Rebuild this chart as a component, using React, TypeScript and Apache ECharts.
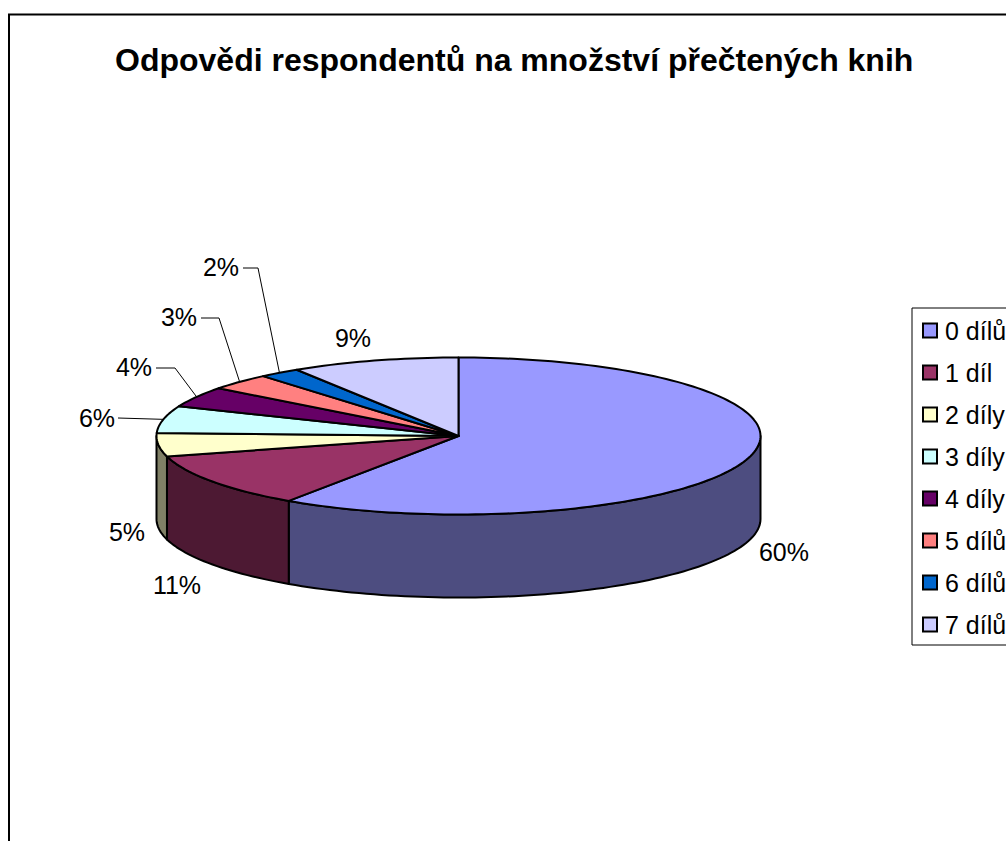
import React, { useEffect, useRef } from "react";
import * as echarts from "echarts";

const titleText = "Odpovědi respondentů na množství přečtených knih";
const categories = ["0 dílů", "1 díl", "2 díly", "3 díly", "4 díly", "5 dílů", "6 dílů", "7 dílů"];
const shares = [59.5, 11.3, 4.8, 5.6, 4.2, 3.4, 2.2, 9.0];
const topColors = ["#9999FF", "#993366", "#FFFFCC", "#CCFFFF", "#660066", "#FF8080", "#0066CC", "#CCCCFF"];
const wallColors = ["#4D4D80", "#4D1933", "#808066", "#668080", "#330033", "#804040", "#003366", "#666680"];

const FONT = "'Liberation Sans', Arial, sans-serif";
const CX = 458.5;
const CY = 436;
const RX = 302;
const RY = 78.5;
const DEPTH = 83;
const labelCenters = [[784, 552], [177, 585], [127, 532], [97, 418], [134, 367], [179, 317], [221, 267], [353, 338]];
// Leader start points and elbows, only for the slices that have a leader line.
const leaderStarts: Record<number, number[][]> = {
  3: [[118, 418]],
  4: [[156, 368], [175, 368]],
  5: [[201, 318], [219, 318]],
  6: [[243, 268], [258, 268]],
};

const total = shares.reduce((a, b) => a + b, 0);
const pointAt = (deg: number, dy = 0) => {
  const r = (deg * Math.PI) / 180;
  return [CX + RX * Math.sin(r), CY - RY * Math.cos(r) + dy];
};
const arc = (from: number, to: number, dy = 0) => {
  const n = Math.max(2, Math.ceil(Math.abs(to - from) / 1.5));
  const out: number[][] = [];
  for (let i = 0; i <= n; i++) out.push(pointAt(from + ((to - from) * i) / n, dy));
  return out;
};

const renderSlice = (params: any, api: any) => {
  const idx = params.seriesIndex;
  const before = shares.slice(0, idx).reduce((a, b) => a + b, 0);
  const a0 = (before / total) * 360;
  const a1 = ((before + api.value(0)) / total) * 360;
  const children: any[] = [];
  const w0 = Math.max(a0, 90);
  const w1 = Math.min(a1, 270);
  if (w1 > w0) {
    children.push({
      type: "polygon",
      shape: { points: [...arc(w0, w1), ...arc(w1, w0, DEPTH)] },
      style: { fill: wallColors[idx], stroke: "#000", lineWidth: 2, lineJoin: "round" },
    });
  }
  children.push({
    type: "polygon",
    shape: { points: [[CX, CY], ...arc(a0, a1)] },
    style: { fill: topColors[idx], stroke: "#000", lineWidth: 2, lineJoin: "round" },
  });
  const starts = leaderStarts[idx];
  if (starts) {
    children.push({
      type: "polyline",
      shape: { points: [...starts, pointAt((a0 + a1) / 2)] },
      style: { fill: "none", stroke: "#000", lineWidth: 1 },
    });
  }
  const [lx, ly] = labelCenters[idx];
  children.push({
    type: "text",
    style: {
      text: `${Math.round((api.value(0) / total) * 100)}%`,
      x: lx,
      y: ly,
      fill: "#000",
      font: `25px ${FONT}`,
      align: "center",
      verticalAlign: "middle",
    },
  });
  return { type: "group", children };
};

export default function App() {
  const ref = useRef<HTMLDivElement>(null);
  useEffect(() => {
    const chart = echarts.init(ref.current!, undefined, { renderer: "svg" });
    chart.setOption({
      animation: false,
      backgroundColor: "#fff",
      title: {
        text: titleText,
        left: 115,
        top: 44,
        padding: 0,
        textStyle: { fontFamily: FONT, fontSize: 32, fontWeight: "bold", color: "#000" },
      },
      legend: {
        orient: "vertical",
        left: 912,
        top: 308,
        padding: [8, 20, 6, 10],
        itemWidth: 14,
        itemHeight: 14,
        itemGap: 13,
        icon: "rect",
        selectedMode: false,
        backgroundColor: "#fff",
        borderColor: "#000",
        borderWidth: 1,
        data: categories,
        itemStyle: { borderColor: "#000", borderWidth: 2 },
        textStyle: { fontFamily: FONT, fontSize: 25, color: "#000", padding: [0, 0, 0, 3], lineHeight: 29 },
      },
      graphic: [
        {
          type: "rect",
          shape: { x: 9, y: 14.5, width: 1100, height: 1000 },
          style: { fill: "none", stroke: "#000", lineWidth: 2 },
        },
      ],
      series: categories.map((name, i) => ({
        type: "custom",
        name,
        coordinateSystem: "none",
        itemStyle: { color: topColors[i] },
        renderItem: renderSlice,
        data: [[shares[i]]],
        silent: true,
      })),
    });
    return () => chart.dispose();
  }, []);
  return <div ref={ref} style={{ position: "fixed", left: 0, top: 0, width: 1006, height: 841 }} />;
}
